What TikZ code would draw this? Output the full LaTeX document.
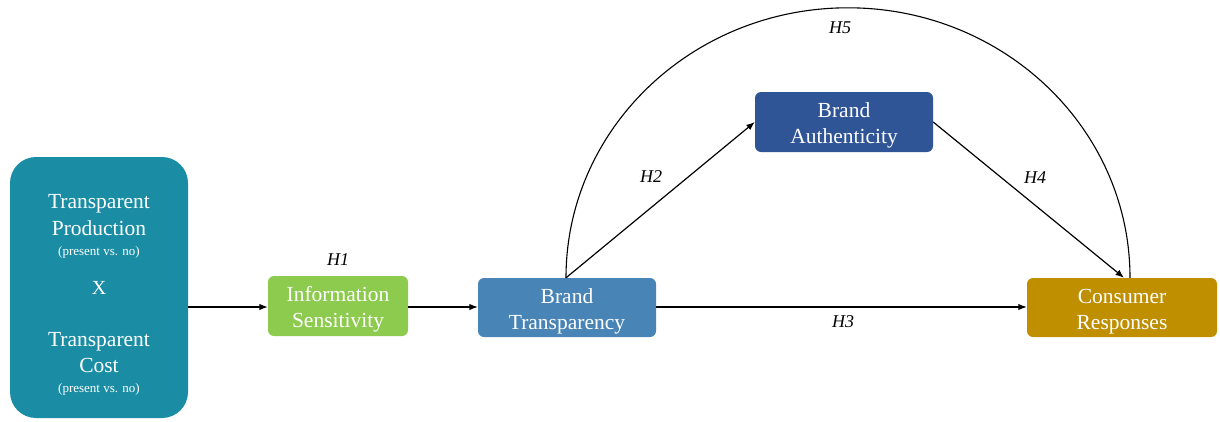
\documentclass[tikz,border=0pt]{standalone}
\usepackage{fontspec}
\setmainfont{Liberation Serif}
\usetikzlibrary{arrows.meta}

\definecolor{tealbox}{HTML}{1A8DA5}
\definecolor{greenbox}{HTML}{8DCB4F}
\definecolor{steelbox}{HTML}{4884B5}
\definecolor{navybox}{HTML}{2F5597}
\definecolor{goldbox}{HTML}{BF8F00}

% extra room above the first line, so two-line labels sit a little lower
\newcommand{\labelpad}{\rule{0pt}{22pt}}

\tikzset{
  construct/.style={rounded corners=6pt, text=white, align=center,
    font=\fontsize{21.5}{26}\selectfont, inner sep=0pt},
  boxtext/.style={text=white, anchor=base, inner sep=0pt},
  bigtext/.style={boxtext, font=\fontsize{21.5}{24}\selectfont},
  smalltext/.style={boxtext, font=\fontsize{13}{15}\selectfont},
  hyp/.style={font=\fontsize{18}{20}\selectfont\itshape, inner sep=0pt},
  link/.style={line width=1.2pt, -{Latex[length=8.5pt,width=6.5pt]}},
}

\begin{document}
\begin{tikzpicture}[x=1pt, y=-1pt]
\useasboundingbox (0,0) rectangle (1220,421);

% manipulated factors
\node[fill=tealbox, rounded corners=26pt, minimum width=178pt, minimum height=261pt, inner sep=0pt]
  (manip) at (99,287.5) {};
\node[bigtext] (tp1) at (99,208) {Transparent};
\node[bigtext] (prod) at (99,235) {Production};
\node[smalltext] (pv1) at (99,255) {(present vs. no)};
\node[boxtext, font=\fontsize{20}{22}\selectfont] (times) at (99,294) {X};
\node[bigtext] (tp2) at (99,346) {Transparent};
\node[bigtext] (cost) at (99,372) {Cost};
\node[smalltext] (pv2) at (99,392) {(present vs. no)};

% constructs
\node[construct, fill=greenbox, minimum width=140pt, minimum height=60pt] (info) at (338,306) {\labelpad Information\\Sensitivity};
\node[construct, fill=steelbox, minimum width=178pt, minimum height=59pt] (trans) at (567,307.5) {\labelpad Brand\\Transparency};
\node[construct, fill=navybox, minimum width=178pt, minimum height=60pt] (auth) at (844,122) {\labelpad Brand\\Authenticity};
\node[construct, fill=goldbox, minimum width=190pt, minimum height=59pt] (resp) at (1122,307.5) {\labelpad Consumer\\Responses};

% paths
\draw[link] (manip.east |- 0,307) -- (info.west |- 0,307);
\draw[link] (info.east |- 0,307) -- (trans.west |- 0,307);
\draw[link] (trans.east |- 0,307) -- (resp.west |- 0,307);
\coordinate (h2start) at (566,0 |- trans.north);
\coordinate (h4end) at (1124,0 |- resp.north);
\draw[link] (h2start) -- (auth.west);
\draw[link] (auth.east) -- (h4end);
\draw[line width=1.1pt] (h2start) arc[start angle=180, end angle=0, x radius=282pt, y radius=270pt];

% hypothesis labels
\node[hyp] (l1) at (338,260) {H1};
\node[hyp] (l2) at (651,177) {H2};
\node[hyp] (l3) at (843,322) {H3};
\node[hyp] (l4) at (1035,178) {H4};
\node[hyp] (l5) at (840,28) {H5};
\end{tikzpicture}
\end{document}
